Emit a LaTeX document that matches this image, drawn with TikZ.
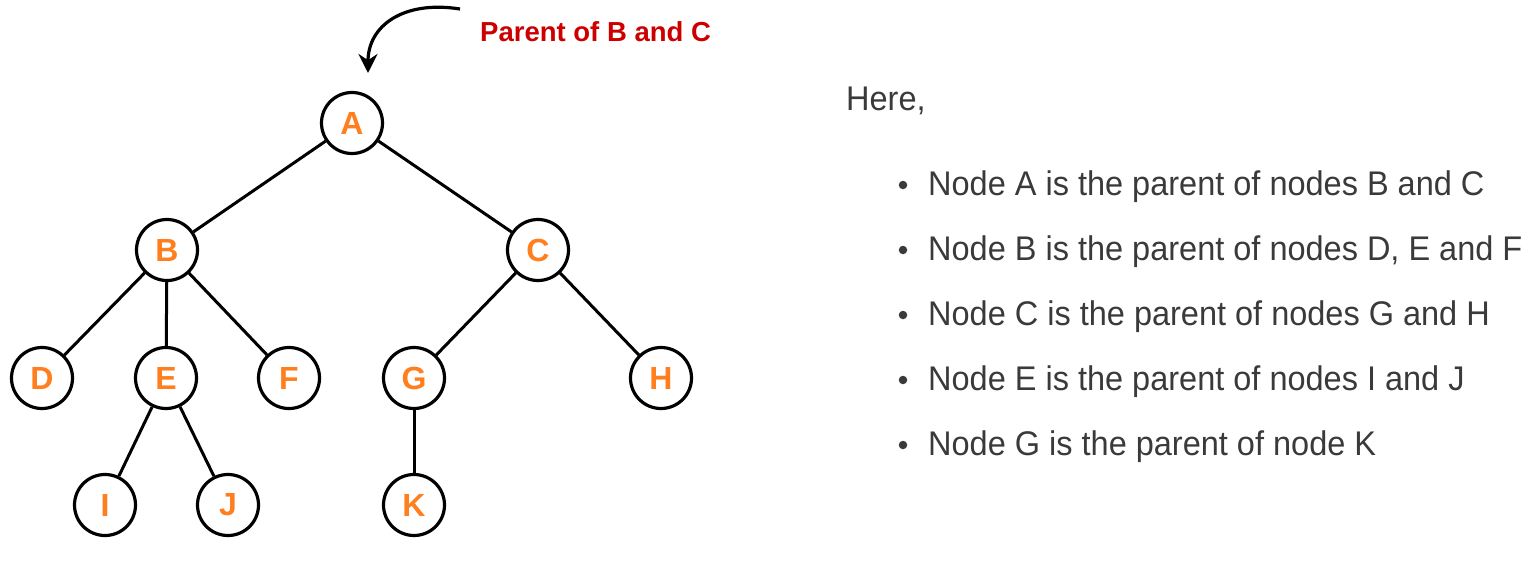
\documentclass[tikz,border=0pt]{standalone}
\usepackage{fontspec}
\setmainfont{Liberation Sans}
\newfontfamily\txtfont[FakeStretch=0.95]{Liberation Sans}
\usetikzlibrary{arrows.meta}
\definecolor{nodeorange}{HTML}{FF7F1E}
\definecolor{labelred}{HTML}{CC0000}
\definecolor{txtgray}{HTML}{3A3A3A}
\tikzset{
  treenode/.style={circle, draw=black, line width=3.2pt, minimum size=61pt, inner sep=0pt,
    fill=white, text=nodeorange, font=\fontsize{32}{32}\selectfont\bfseries},
  edge/.style={line width=3pt, black},
  listtext/.style={anchor=base west, inner sep=0pt, text=txtgray, font=\txtfont\fontsize{34.2}{34.2}\selectfont},
  bulletdot/.style={circle, fill=txtgray, inner sep=0pt, minimum size=8.5pt},
}
\begin{document}
\begin{tikzpicture}[x=1pt,y=-1pt]
\useasboundingbox (0,0) rectangle (1537,560);
% nodes
\node[treenode] (A) at (352,123) {A};
\node[treenode] (B) at (167,250) {B};
\node[treenode] (C) at (538,250) {C};
\node[treenode] (D) at (42,378) {D};
\node[treenode] (E) at (166,378) {E};
\node[treenode] (F) at (289,378) {F};
\node[treenode] (G) at (414,378) {G};
\node[treenode] (H) at (661,378) {H};
\node[treenode] (I) at (105,505) {I};
\node[treenode] (J) at (228,505) {J};
\node[treenode] (K) at (414,505) {K};
% edges
\draw[edge] (A) -- (B);
\draw[edge] (A) -- (C);
\draw[edge] (B) -- (D);
\draw[edge] (B) -- (E);
\draw[edge] (B) -- (F);
\draw[edge] (C) -- (G);
\draw[edge] (C) -- (H);
\draw[edge] (E) -- (I);
\draw[edge] (E) -- (J);
\draw[edge] (G) -- (K);
% annotation arrow
\coordinate (arrowstart) at (460,9);
\coordinate (arrowend) at (368,73);
\draw[line width=3.2pt, -{Stealth[length=19pt,width=19pt]}]
  (arrowstart) .. controls (403,0) and (368,26) .. (arrowend);
\node[anchor=base west, inner sep=0pt, text=labelred, font=\fontsize{27.5}{27.5}\selectfont\bfseries] (lbl) at (480,41) {Parent of B and C};
% right text
\node[listtext] (here) at (846,110) {Here,};
\node[bulletdot] (b1) at (903,185) {};
\node[bulletdot] (b2) at (903,250) {};
\node[bulletdot] (b3) at (903,315) {};
\node[bulletdot] (b4) at (903,380) {};
\node[bulletdot] (b5) at (903,445) {};
\node[listtext] (t1) at (928,195) {Node A is the parent of nodes B and C};
\node[listtext] (t2) at (928,260) {Node B is the parent of nodes D, E and F};
\node[listtext] (t3) at (928,325) {Node C is the parent of nodes G and H};
\node[listtext] (t4) at (928,390) {Node E is the parent of nodes I and J};
\node[listtext] (t5) at (928,455) {Node G is the parent of node K};
\end{tikzpicture}
\end{document}
